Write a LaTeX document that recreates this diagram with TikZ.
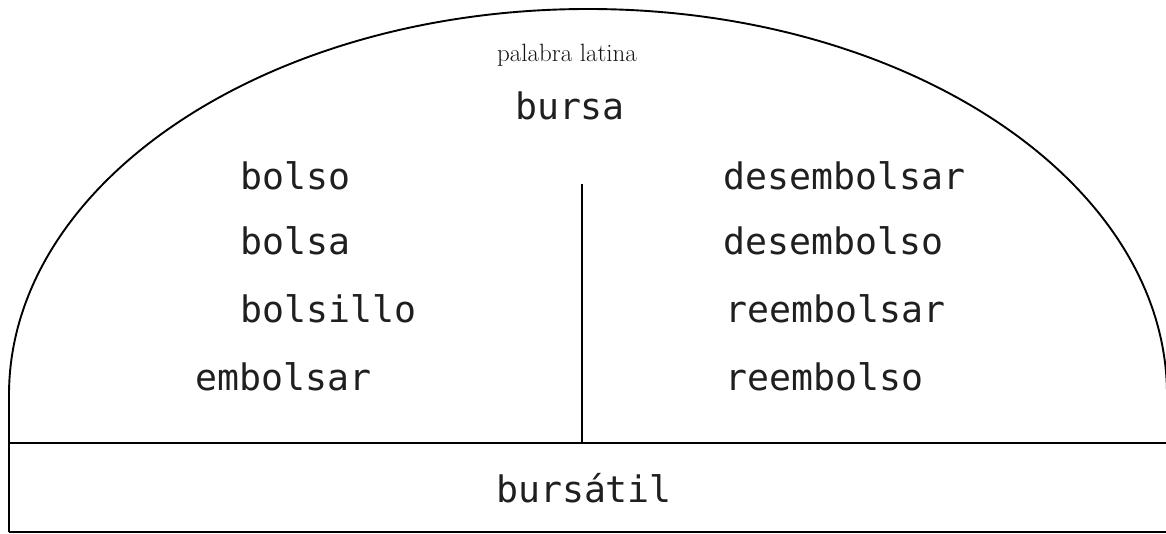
\documentclass[tikz,border=0pt]{standalone}
\usepackage{fontspec}
\setmonofont{DejaVu Sans Mono}
\begin{document}
\begin{tikzpicture}[x=1pt, y=1pt, line width=1.9pt,
    word/.style={font=\ttfamily\fontsize{36.5}{40}\selectfont, inner sep=0pt, text=black!88},
    note/.style={font=\fontsize{25}{27}\selectfont, inner sep=0pt, text=black!92}]
    \useasboundingbox (0,0) rectangle (1166,533);

    % cúpula y base
    \draw (9,1) -- (9,138) arc[start angle=180, end angle=0, x radius=579, y radius=386] -- (1167,1);
    \draw (9,90) -- (1167,90);
    \draw (9,1) -- (1167,1);

    % raíz
    \node[note, anchor=base] (palabra) at (567, 471) {palabra latina};
    \node[word, anchor=base] (bursa) at (570, 413) {bursa};

    % columna izquierda
    \node[word, anchor=base west] (bolso) at (240, 343) {bolso};
    \node[word, anchor=base west] (bolsa) at (240, 278) {bolsa};
    \node[word, anchor=base west] (bolsillo) at (240, 210) {bolsillo};
    \node[word, anchor=base west] (embolsar) at (195, 143) {embolsar};

    % columna derecha
    \node[word, anchor=base west] (desembolsar) at (723, 343) {desembolsar};
    \node[word, anchor=base west] (desembolso) at (723, 278) {desembolso};
    \node[word, anchor=base west] (reembolsar) at (725, 210) {reembolsar};
    \node[word, anchor=base west] (reembolso) at (725, 143) {reembolso};

    % separador
    \coordinate (sep top) at (582, 349);
    \coordinate (sep bottom) at (582, 90);
    \draw (sep top) -- (sep bottom);

    \node[word, anchor=base] (bursatil) at (584, 31) {bursátil};
\end{tikzpicture}
\end{document}
